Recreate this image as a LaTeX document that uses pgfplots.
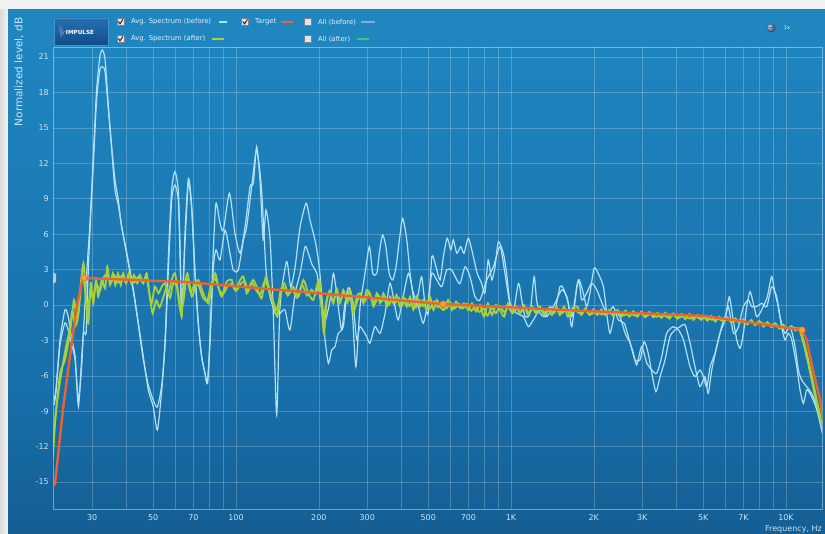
\documentclass[border=0pt]{standalone}
\usepackage{pgfplots}
\pgfplotsset{compat=1.18}
\usepackage{fontspec}
\setmainfont{DejaVu Sans}
\definecolor{bgtop}{RGB}{31,134,192}
\definecolor{bgmid}{RGB}{24,110,168}
\definecolor{bgbot}{RGB}{11,64,110}
\definecolor{before}{RGB}{178,224,245}
\definecolor{after}{RGB}{168,208,60}
\definecolor{target}{RGB}{238,98,45}
\definecolor{tdot}{RGB}{245,160,55}
\definecolor{lbl}{RGB}{205,228,242}
\definecolor{chkfill}{RGB}{225,228,232}
\definecolor{chkborder}{RGB}{120,130,140}
\definecolor{lav}{RGB}{150,160,225}
\definecolor{grn}{RGB}{60,200,120}
\pgfdeclareverticalshading{bgshade}{100bp}{color(0bp)=(bgbot); color(38bp)=(bgmid); color(72bp)=(bgtop); color(100bp)=(bgtop)}
\newcommand{\chk}[2]{\draw[fill=chkfill, draw=chkborder, line width=0.4bp] (#1-3.5,#2-3.5) rectangle (#1+3.5,#2+3.5); \draw[line width=1bp, black!85, line cap=round] (#1-2,#2+0.2) -- (#1-0.5,#2-1.8) -- (#1+2.3,#2+2.4);}
\newcommand{\unchk}[2]{\draw[fill=chkfill, draw=chkborder, line width=0.4bp] (#1-3.5,#2-3.5) rectangle (#1+3.5,#2+3.5);}
\begin{document}
\begin{tikzpicture}
\begin{scope}[x=1bp,y=1bp]
\path[use as bounding box] (0,0) rectangle (825,534);
\fill[gray!10] (0,0) rectangle (825,534);
\shade[left color=gray!28, right color=gray!10] (0,0) rectangle (8,524);
\path[shading=bgshade] (8,0) rectangle (825,524);
\end{scope}
\begin{axis}[
  at={(53bp,25bp)}, anchor=south west,
  width=769bp, height=462bp, scale only axis,
  xmin=1.3345, xmax=4.1309, ymin=-17.28, ymax=21.85,
  xtick={1.47712,1.69897,1.84510,2,2.30103,2.47712,2.69897,2.84510,3,3.30103,3.47712,3.69897,3.84510,4},
  xticklabels={30,50,70,100,200,300,500,700,1K,2K,3K,5K,7K,10K},
  minor xtick={1.60206,1.77815,1.90309,1.95424,2.60206,2.77815,2.90309,2.95424,3.60206,3.77815,3.90309,3.95424},
  ytick={-15,-12,...,21},
  grid=both,
  major grid style={draw=white, draw opacity=0.22, line width=0.6bp},
  minor grid style={draw=white, draw opacity=0.22, line width=0.6bp},
  axis line style={draw=white, draw opacity=0.4, line width=0.6bp},
  tick style={draw=none}, major tick length=0pt, minor tick length=0pt,
  /pgf/number format/assume math mode=true,
  ticklabel style={font=\fontsize{8bp}{9.6bp}\selectfont, text=lbl, inner sep=0pt},
  xticklabel style={anchor=north, yshift=-5bp},
  yticklabel style={anchor=east, xshift=-4bp},
  clip=true,
]
% before (two channels)
\addplot[before, line width=1.2bp, smooth, tension=0.4] coordinates {
(1.338,-8.47) (1.345,-7.45) (1.360,-2.96) (1.378,-0.42) (1.390,-0.99) (1.403,-2.96) (1.415,-4.38) (1.427,-8.61) (1.439,-4.38) (1.445,-2.37) (1.457,2.71) (1.469,6.95) (1.481,12.56) (1.493,18.21) (1.505,21.03) (1.514,21.60) (1.524,20.75) (1.536,16.80) (1.548,13.41) (1.560,10.59) (1.572,8.89) (1.584,6.63) (1.603,4.38) (1.627,1.27) (1.645,-1.55) (1.663,-4.38) (1.681,-7.20) (1.699,-8.61) (1.714,-10.59) (1.730,-7.20) (1.742,-2.96) (1.754,4.09) (1.766,9.74) (1.778,11.29) (1.790,9.74) (1.796,5.51) (1.803,-0.99) (1.815,6.35) (1.827,10.73) (1.839,8.33) (1.851,2.71) (1.863,-1.52) (1.875,-4.38) (1.887,-5.76) (1.896,-6.63) (1.905,-2.96) (1.917,4.38) (1.927,8.61) (1.942,6.92) (1.954,6.35) (1.976,9.46) (1.996,6.10) (2.015,4.40) (2.033,6.63) (2.051,10.02) (2.063,10.31) (2.075,13.41) (2.087,10.59) (2.099,5.51) (2.109,8.05) (2.124,5.51) (2.136,-0.99) (2.148,-9.32) (2.160,-0.14) (2.184,3.67) (2.199,1.55) (2.215,3.24) (2.233,6.63) (2.255,8.61) (2.269,7.20) (2.287,5.51) (2.296,4.38) (2.305,2.68) (2.317,-0.70) (2.324,-2.96) (2.336,-4.94) (2.348,-3.81) (2.360,-3.53) (2.372,-2.40) (2.390,-1.84) (2.403,0.99) (2.412,1.41) (2.424,-0.99) (2.436,-5.23) (2.451,-0.14) (2.469,2.68) (2.485,4.94) (2.497,2.68) (2.512,2.68) (2.521,4.38) (2.533,5.93) (2.545,4.94) (2.557,2.68) (2.570,2.12) (2.582,3.24) (2.594,5.51) (2.606,7.34) (2.621,5.51) (2.633,2.68) (2.651,-0.14) (2.663,0.99) (2.675,2.40) (2.687,0.14) (2.699,-0.70) (2.712,4.09) (2.727,3.24) (2.742,2.12) (2.754,4.09) (2.768,5.65) (2.781,4.66) (2.790,5.51) (2.803,4.38) (2.817,4.94) (2.829,4.38) (2.845,5.65) (2.863,4.09) (2.877,2.68) (2.893,1.84) (2.905,0.99) (2.917,3.81) (2.930,2.12) (2.942,3.24) (2.954,5.36) (2.972,4.38) (2.984,2.68) (2.996,0.14) (3.008,-0.70) (3.027,1.84) (3.039,0.42) (3.051,-0.99) (3.069,-0.70) (3.084,2.40) (3.093,0.42) (3.105,-0.70) (3.124,-0.99) (3.142,-0.14) (3.160,-0.42) (3.178,1.55) (3.190,1.41) (3.208,0.14) (3.221,-1.84) (3.239,1.55) (3.248,2.12) (3.263,0.99) (3.275,-0.14) (3.287,0.99) (3.302,3.11) (3.317,2.68) (3.336,1.55) (3.348,-0.70) (3.360,-2.40) (3.378,-0.70) (3.396,-0.99) (3.415,-2.40) (3.433,-3.24) (3.451,-4.66) (3.469,-4.66) (3.484,-3.11) (3.499,-4.09) (3.512,-5.79) (3.527,-7.34) (3.542,-6.07) (3.560,-4.66) (3.578,-2.68) (3.596,-2.12) (3.615,-1.84) (3.633,-1.69) (3.651,-3.22) (3.669,-5.23) (3.687,-6.92) (3.705,-6.07) (3.717,-7.48) (3.730,-5.51) (3.748,-3.53) (3.766,-1.84) (3.782,-0.70) (3.794,0.70) (3.806,-0.99) (3.821,-2.96) (3.833,-3.67) (3.845,-2.40) (3.857,-0.14) (3.869,1.13) (3.881,0.14) (3.893,-0.99) (3.905,-0.70) (3.917,-0.14) (3.932,0.70) (3.948,2.40) (3.960,0.99) (3.972,-0.14) (3.984,-1.84) (3.996,-2.96) (4.008,-2.40) (4.021,-2.96) (4.039,-5.23) (4.051,-7.20) (4.063,-8.33) (4.075,-7.20) (4.087,-7.48) (4.099,-8.05) (4.112,-8.89) (4.124,-10.02) (4.132,-10.87)
};
\addplot[before, line width=1.2bp, smooth, tension=0.4] coordinates {
(1.338,-8.05) (1.345,-7.20) (1.360,-3.39) (1.378,-1.52) (1.390,-2.12) (1.403,-3.39) (1.415,-4.66) (1.427,-8.05) (1.439,-5.08) (1.445,-2.37) (1.455,-2.37) (1.460,1.27) (1.469,6.35) (1.481,11.86) (1.493,17.36) (1.505,19.90) (1.514,20.18) (1.524,19.73) (1.536,16.52) (1.548,13.13) (1.560,9.74) (1.572,8.47) (1.584,6.69) (1.603,4.24) (1.627,1.10) (1.645,-1.69) (1.663,-4.66) (1.681,-6.78) (1.699,-8.05) (1.714,-8.64) (1.730,-6.78) (1.742,-3.39) (1.754,2.96) (1.766,8.89) (1.778,10.16) (1.790,8.89) (1.796,4.66) (1.803,-0.42) (1.815,5.51) (1.827,10.42) (1.839,8.05) (1.851,2.54) (1.863,-1.69) (1.875,-4.38) (1.887,-5.76) (1.896,-6.63) (1.905,-3.39) (1.917,2.96) (1.927,4.66) (1.942,3.81) (1.960,6.35) (1.978,4.38) (1.990,2.96) (2.008,2.96) (2.027,5.51) (2.039,6.63) (2.057,10.02) (2.075,13.13) (2.093,9.74) (2.112,2.12) (2.142,-0.70) (2.160,-0.70) (2.178,-0.42) (2.196,-2.12) (2.215,0.99) (2.233,2.68) (2.251,4.94) (2.263,4.38) (2.277,3.39) (2.294,2.68) (2.305,0.70) (2.324,-1.27) (2.342,0.42) (2.354,2.68) (2.366,0.99) (2.384,-2.12) (2.396,0.14) (2.415,1.27) (2.427,-0.14) (2.439,-2.96) (2.451,-1.84) (2.475,-2.68) (2.487,-3.24) (2.505,-1.84) (2.524,-2.40) (2.542,-0.70) (2.560,1.84) (2.578,-0.14) (2.590,-1.27) (2.608,0.70) (2.627,2.68) (2.645,0.99) (2.663,-0.14) (2.681,-1.55) (2.699,0.42) (2.712,2.68) (2.730,2.12) (2.748,1.55) (2.766,2.96) (2.784,2.96) (2.803,2.12) (2.815,1.84) (2.833,3.24) (2.851,2.40) (2.869,0.70) (2.887,0.42) (2.912,2.12) (2.936,3.24) (2.960,4.94) (2.978,2.68) (2.996,0.14) (3.021,-0.70) (3.045,-0.99) (3.063,-1.84) (3.081,-1.27) (3.105,-0.42) (3.130,-0.99) (3.160,0.14) (3.184,1.27) (3.203,0.70) (3.221,-0.99) (3.245,2.12) (3.257,0.42) (3.275,0.99) (3.293,1.84) (3.312,1.27) (3.336,-0.14) (3.354,-0.70) (3.372,-0.14) (3.390,-1.27) (3.412,-1.55) (3.430,-2.96) (3.445,-4.09) (3.457,-5.08) (3.475,-3.53) (3.494,-4.94) (3.512,-5.51) (3.530,-5.79) (3.548,-4.38) (3.566,-2.40) (3.590,-1.84) (3.609,-2.12) (3.627,-2.96) (3.651,-5.23) (3.669,-6.07) (3.687,-5.51) (3.699,-6.07) (3.712,-6.92) (3.724,-5.23) (3.742,-4.09) (3.760,-2.40) (3.778,-1.27) (3.790,-0.14) (3.809,-2.40) (3.827,-1.84) (3.845,-0.14) (3.863,0.42) (3.875,-0.14) (3.893,-0.14) (3.912,0.14) (3.930,-0.14) (3.948,1.55) (3.966,0.70) (3.978,-0.99) (3.996,-2.40) (4.015,-1.84) (4.033,-3.53) (4.045,-5.51) (4.057,-6.35) (4.075,-6.92) (4.093,-7.48) (4.112,-8.61) (4.132,-10.59)
};
% after (two channels)
\addplot[after, line width=1.8bp, smooth, tension=0.4] coordinates {
(1.3345,-13.0) (1.342,-10.0) (1.360,-5.84) (1.378,-4.66) (1.396,-2.40) (1.411,0.42) (1.421,-1.55) (1.430,0.42) (1.445,3.53) (1.455,0.42) (1.463,-1.55) (1.472,1.84) (1.481,0.14) (1.491,2.12) (1.499,0.71) (1.512,2.12) (1.524,1.41) (1.532,3.25) (1.542,1.69) (1.552,2.68) (1.561,1.69) (1.571,2.68) (1.581,1.69) (1.590,2.68) (1.600,1.84) (1.610,2.68) (1.619,1.84) (1.629,2.54) (1.641,1.84) (1.651,2.54) (1.663,1.84) (1.675,2.68) (1.685,0.99) (1.693,0.14) (1.705,1.55) (1.718,0.99) (1.730,1.55) (1.742,1.84) (1.754,0.99) (1.766,2.12) (1.778,2.68) (1.790,0.99) (1.802,-0.99) (1.808,0.99) (1.823,2.68) (1.839,0.71) (1.851,1.55) (1.863,2.12) (1.881,0.99) (1.899,0.14) (1.912,1.55) (1.924,2.68) (1.936,1.55) (1.948,0.71) (1.966,1.98) (1.984,2.12) (1.996,1.27) (2.015,2.12) (2.027,2.40) (2.039,0.99) (2.051,1.69) (2.063,2.12) (2.075,1.55) (2.093,0.56) (2.109,2.40) (2.124,0.99) (2.138,-0.14) (2.150,-0.99) (2.160,0.99) (2.175,1.84) (2.190,0.99) (2.208,1.55) (2.227,0.71) (2.245,2.12) (2.263,0.99) (2.281,0.42) (2.293,1.55) (2.303,2.12) (2.311,-0.14) (2.320,-2.40) (2.330,0.42) (2.342,0.99) (2.354,0.14) (2.366,1.41) (2.378,0.14) (2.390,1.27) (2.403,0.42) (2.415,1.27) (2.427,-0.71) (2.439,0.71) (2.451,0.99) (2.463,0.14) (2.475,1.27) (2.487,0.99) (2.500,-0.14) (2.512,0.99) (2.524,0.14) (2.536,0.99) (2.548,-0.14) (2.560,0.71) (2.572,0.14) (2.584,0.85) (2.596,-0.14) (2.608,0.71) (2.621,-0.14) (2.633,0.71) (2.645,-0.42) (2.657,0.71) (2.669,-0.14) (2.681,0.42) (2.693,-0.42) (2.705,0.71) (2.718,-0.42) (2.730,0.42) (2.742,-0.14) (2.756,-0.42) (2.771,0.42) (2.785,-0.42) (2.800,0.28) (2.815,-0.28) (2.829,0.14) (2.844,-0.42) (2.858,0.14) (2.873,-0.56) (2.887,0.0) (2.902,-0.99) (2.916,0.14) (2.931,-0.85) (2.945,0.0) (2.960,-0.42) (2.975,-0.99) (2.989,0.14) (3.004,-0.56) (3.018,-0.14) (3.033,-0.71) (3.047,0.0) (3.062,-0.85) (3.076,-0.14) (3.091,-0.71) (3.105,-0.14) (3.120,-0.85) (3.134,-0.28) (3.149,-0.85) (3.164,-0.14) (3.178,-0.85) (3.193,-0.14) (3.207,-0.99) (3.222,-0.28) (3.241,-0.14) (3.256,-0.85) (3.270,-0.28) (3.285,-0.85) (3.300,-0.37) (3.314,-0.85) (3.329,-0.37) (3.343,-0.85) (3.358,-0.42) (3.372,-0.93) (3.387,-0.42) (3.401,-0.99) (3.416,-0.48) (3.430,-0.99) (3.445,-0.54) (3.459,-0.99) (3.474,-0.56) (3.488,-1.04) (3.503,-0.59) (3.518,-1.04) (3.532,-0.65) (3.547,-1.10) (3.561,-0.65) (3.576,-1.16) (3.590,-0.71) (3.605,-1.16) (3.620,-0.76) (3.634,-1.21) (3.649,-0.76) (3.663,-1.27) (3.678,-0.85) (3.692,-1.27) (3.699,-0.93) (3.714,-1.33) (3.728,-0.93) (3.743,-1.41) (3.757,-0.99) (3.772,-1.41) (3.787,-1.04) (3.801,-1.50) (3.816,-1.13) (3.830,-1.55) (3.845,-1.21) (3.859,-1.64) (3.874,-1.27) (3.888,-1.72) (3.903,-1.36) (3.918,-1.84) (3.932,-1.44) (3.947,-1.89) (3.961,-1.55) (3.976,-2.00) (3.990,-1.67) (4.005,-2.06) (4.020,-1.78) (4.034,-2.17) (4.048,-1.98) (4.063,-2.96) (4.081,-4.66) (4.099,-6.63) (4.117,-8.61) (4.132,-10.02)
};
\addplot[after, line width=1.8bp, smooth, tension=0.4] coordinates {
(1.3345,-12.0) (1.345,-9.0) (1.360,-6.5) (1.378,-4.0) (1.396,-2.0) (1.405,-0.5) (1.415,-1.8) (1.428,-0.6) (1.440,2.6) (1.450,1.5) (1.460,-0.8) (1.470,1.2) (1.480,0.6) (1.492,1.8) (1.505,1.2) (1.518,2.3) (1.530,2.6) (1.545,1.9) (1.558,2.5) (1.570,1.9) (1.585,2.5) (1.600,1.9) (1.615,2.5) (1.630,1.9) (1.645,2.4) (1.660,1.9) (1.675,2.3) (1.688,0.5) (1.697,-0.7) (1.710,0.4) (1.722,-0.2) (1.735,0.6) (1.748,1.5) (1.760,0.6) (1.772,1.9) (1.785,1.5) (1.797,-0.4) (1.808,0.2) (1.820,2.2) (1.835,1.1) (1.850,1.8) (1.865,1.6) (1.880,0.6) (1.896,0.4) (1.910,1.8) (1.925,2.2) (1.940,1.2) (1.955,1.0) (1.970,1.6) (1.985,1.8) (2.000,1.2) (2.018,1.8) (2.032,2.0) (2.045,1.2) (2.058,1.9) (2.072,1.3) (2.088,0.9) (2.104,2.0) (2.120,1.3) (2.135,0.3) (2.148,-0.4) (2.158,0.5) (2.172,1.5) (2.188,0.8) (2.205,1.3) (2.222,0.6) (2.240,1.7) (2.258,0.8) (2.275,1.3) (2.290,0.9) (2.300,1.8) (2.308,0.6) (2.318,-1.2) (2.328,0.2) (2.340,1.2) (2.352,0.3) (2.365,1.0) (2.380,0.4) (2.392,1.0) (2.405,0.2) (2.418,0.9) (2.430,-0.3) (2.442,0.4) (2.455,0.8) (2.468,0.3) (2.480,1.0) (2.492,0.6) (2.505,0.1) (2.518,0.8) (2.530,0.3) (2.542,0.7) (2.555,0.0) (2.568,0.5) (2.580,0.2) (2.592,0.6) (2.605,0.0) (2.618,0.5) (2.630,-0.1) (2.642,0.4) (2.655,-0.2) (2.668,0.4) (2.680,-0.1) (2.692,0.3) (2.705,-0.3) (2.720,0.3) (2.735,-0.2) (2.750,0.2) (2.765,-0.3) (2.780,0.2) (2.795,-0.3) (2.810,0.1) (2.825,-0.3) (2.840,0.1) (2.855,-0.5) (2.870,-0.1) (2.885,-0.6) (2.900,-0.3) (2.915,-0.9) (2.930,-0.2) (2.945,-0.7) (2.960,-0.1) (2.975,-0.6) (2.990,-0.2) (3.005,-0.7) (3.020,-0.3) (3.035,-0.6) (3.050,-0.2) (3.065,-0.7) (3.080,-0.3) (3.095,-0.6) (3.110,-0.3) (3.125,-0.7) (3.140,-0.4) (3.155,-0.7) (3.170,-0.3) (3.185,-0.7) (3.200,-0.4) (3.215,-0.8) (3.230,-0.4) (3.250,-0.7) (3.270,-0.5) (3.290,-0.8) (3.310,-0.5) (3.330,-0.8) (3.350,-0.6) (3.370,-0.8) (3.390,-0.6) (3.410,-0.9) (3.430,-0.7) (3.450,-0.9) (3.470,-0.7) (3.490,-0.95) (3.510,-0.75) (3.530,-1.0) (3.550,-0.8) (3.570,-1.05) (3.590,-0.85) (3.610,-1.1) (3.630,-0.9) (3.650,-1.15) (3.670,-0.95) (3.690,-1.2) (3.710,-1.05) (3.730,-1.25) (3.750,-1.1) (3.770,-1.35) (3.790,-1.2) (3.810,-1.4) (3.830,-1.3) (3.850,-1.5) (3.870,-1.4) (3.890,-1.6) (3.910,-1.5) (3.930,-1.7) (3.950,-1.65) (3.970,-1.85) (3.990,-1.8) (4.010,-2.0) (4.030,-1.95) (4.048,-2.1) (4.063,-3.2) (4.081,-5.0) (4.099,-7.0) (4.117,-8.9) (4.132,-10.3)
};
% target
\addplot[target, line width=2.4bp, line join=round] coordinates {
(1.3345,-15.42) (1.342,-15.08) (1.372,-8.61) (1.396,-4.38) (1.421,-0.14) (1.439,1.86) (1.447,2.29) (1.815,1.95) (2.287,1.02) (2.753,0.08) (3.233,-0.47) (3.705,-0.93) (4.058,-2.12) (4.075,-2.96) (4.098,-5.50) (4.124,-8.05) (4.134,-9.74)
};
\addplot[only marks, mark=*, mark size=3.3bp, mark options={fill=tdot, draw=target, line width=0.5bp}] coordinates {
(1.447,2.29) (2.753,0.08) (4.058,-2.12)
};
\end{axis}
\begin{scope}[x=1bp,y=1bp]
% axis labels
\node[rotate=90, text=lbl, inner sep=0pt, font=\fontsize{10.5bp}{12bp}\selectfont] at (19,462) {Normalized level, dB};
\node[anchor=east, text=lbl, inner sep=0pt, font=\fontsize{8bp}{9.6bp}\selectfont] at (822,5) {Frequency, Hz};
% left level marker
\fill[gray!45] (53,250) -- (56,252) -- (56,260) -- (53,262) -- cycle;
% impulse button
\shade[top color={rgb,255:red,38;green,112;blue,178}, bottom color={rgb,255:red,18;green,76;blue,136}] (54,489) rectangle (108,516);
\draw[draw={rgb,255:red,70;green,145;blue,205}, line width=0.5bp] (54,489) rectangle (108,516);
\draw[white, opacity=0.35, line width=0.4bp] (56,502) -- (59,502) -- (60,508) -- (61,496) -- (62,506) -- (63,499) -- (64,503) -- (66,502);
\node[text=white, inner sep=0pt, font=\bfseries\fontsize{5.7bp}{7bp}\selectfont] at (80,502) {IMPULSE};
% legend row 1
\chk{120.5}{512}
\node[anchor=west, inner sep=0pt, text=white!92!blue, font=\fontsize{6.8bp}{8bp}\selectfont] at (131,512) {Avg. Spectrum (before)};
\draw[before, line width=2.2bp] (219,512) -- (227,512);
\chk{245}{512}
\node[anchor=west, inner sep=0pt, text=white!92!blue, font=\fontsize{6.8bp}{8bp}\selectfont] at (255,512) {Target};
\draw[target, line width=2.2bp] (281,512) -- (293,512);
\unchk{307.5}{512}
\node[anchor=west, inner sep=0pt, text=white!92!blue, font=\fontsize{6.8bp}{8bp}\selectfont] at (318,512) {All (before)};
\draw[lav, line width=2.2bp] (361,512) -- (375,512);
% legend row 2
\chk{120.5}{495}
\node[anchor=west, inner sep=0pt, text=white!92!blue, font=\fontsize{6.8bp}{8bp}\selectfont] at (131,495) {Avg. Spectrum (after)};
\draw[after, line width=2.2bp] (212,495) -- (224,495);
\unchk{307.5}{495}
\node[anchor=west, inner sep=0pt, text=white!92!blue, font=\fontsize{6.8bp}{8bp}\selectfont] at (318,495) {All (after)};
\draw[grn, line width=2.2bp] (357,495) -- (369,495);
% zoom control
\shade[ball color={rgb,255:red,110;green,150;blue,205}] (771,506) circle (4.5);
\draw[black!60, line width=1bp] (769,506) -- (773,506);
\node[text=white, inner sep=0pt, font=\fontsize{5bp}{6bp}\selectfont] at (787,506) {1x};
\end{scope}
\end{tikzpicture}
\end{document}
